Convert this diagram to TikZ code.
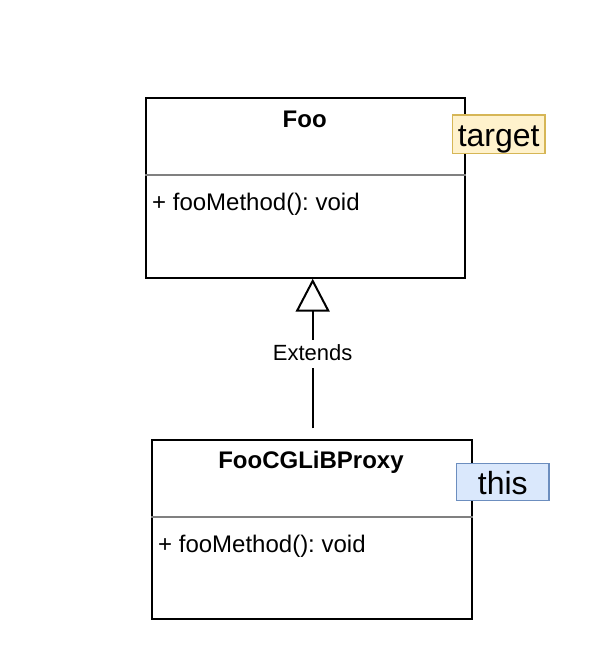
\documentclass[tikz,border=0pt]{standalone}
\usepackage{fontspec}
\setmainfont{Liberation Sans}
\usetikzlibrary{arrows.meta}
\definecolor{tgtfill}{HTML}{FFF2CC}
\definecolor{tgtdraw}{HTML}{D6B656}
\definecolor{thisfill}{HTML}{DAE8FC}
\definecolor{thisdraw}{HTML}{6C8EBF}
\definecolor{divgray}{HTML}{808080}
\frenchspacing
\begin{document}
\begin{tikzpicture}[x=1pt,y=-1pt,
  classbox/.style={draw=black, line width=2pt, fill=white, inner sep=0pt, anchor=north west},
  divider/.style={draw=divgray, line width=1.5pt},
  titletext/.style={font=\fontsize{24}{28}\selectfont\bfseries, anchor=base, inner sep=0pt},
  methtext/.style={font=\fontsize{24}{28}\selectfont, anchor=base west, inner sep=0pt},
  tag/.style={font=\fontsize{32}{36}\selectfont, line width=1.5pt, inner sep=0pt, anchor=base, text depth=6.5pt},
  extlbl/.style={font=\fontsize{22}{26}\selectfont, fill=white, inner xsep=2pt, inner ysep=0pt, text height=21pt, text depth=7pt},
  inherit/.style={draw=black, line width=2pt, -{Triangle[open, length=33pt, width=34pt]}}
]
\useasboundingbox (0,0) rectangle (612,670);

% Foo class
\node[classbox, minimum width=319.3pt, minimum height=179.4pt] (foo) at (145,97.3) {};
\draw[divider] (foo.west |- 0,175) -- (foo.east |- 0,175);
\node[titletext] (footitle) at (304.7,127) {Foo};
\node[methtext] (foometh) at (152,210) {+ fooMethod(): void};

% FooCGLiBProxy class
\node[classbox, minimum width=320pt, minimum height=179pt] (proxy) at (151,439.3) {};
\draw[divider] (proxy.west |- 0,517) -- (proxy.east |- 0,517);
\node[titletext] (proxytitle) at (311,468.5) {FooCGLiBProxy};
\node[methtext] (proxymeth) at (158,552.7) {+ fooMethod(): void};

% tags
\node[tag, fill=tgtfill, draw=tgtdraw, minimum width=92.7pt, text height=31.8pt] (target) at (498.7,146.8) {target};
\node[tag, fill=thisfill, draw=thisdraw, minimum width=92.3pt, text height=30.7pt] (this) at (502.85,494) {this};

% inheritance
\coordinate (ext) at (312.7,428.3);
\draw[inherit] (ext) -- (ext |- foo.south) node[extlbl, pos=0.5] (extends) {Extends};
\end{tikzpicture}
\end{document}
